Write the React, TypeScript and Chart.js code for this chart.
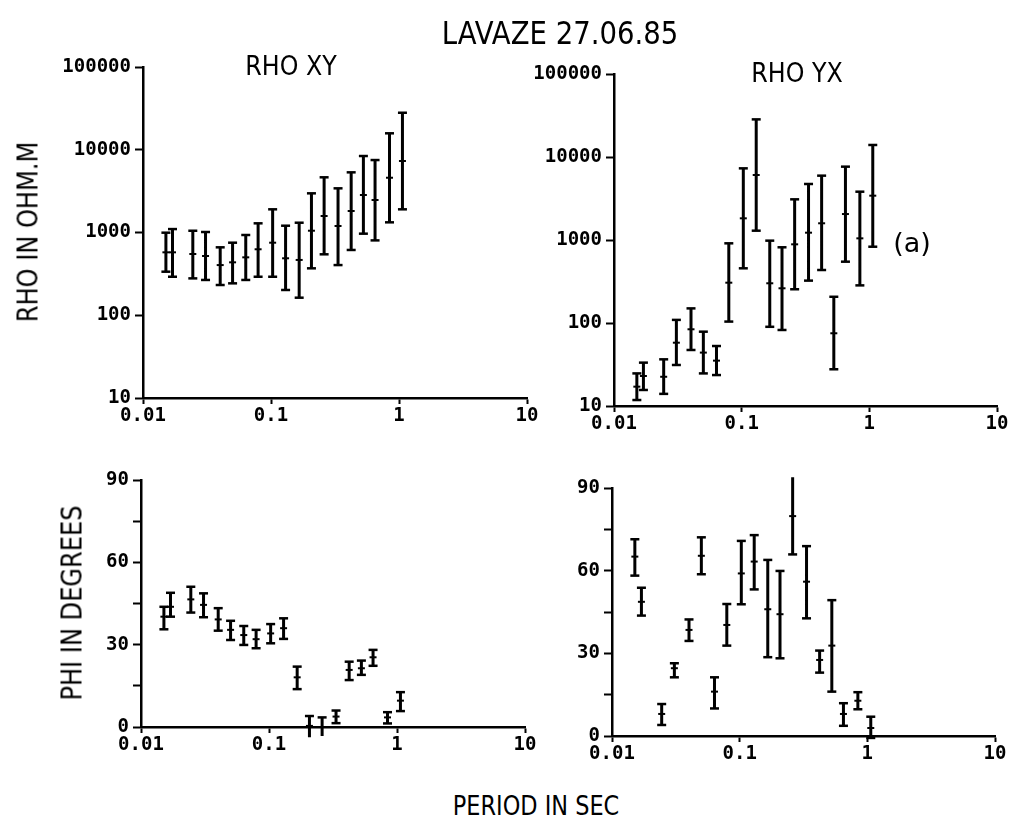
import React, { useEffect, useRef } from "react";
import { Chart, registerables } from "chart.js";

Chart.register(...registerables);

// Periods (s), shared by the four panels
const periods = [0.0151, 0.017, 0.0245, 0.0308, 0.0401, 0.0501, 0.0635, 0.0793, 0.103, 0.13, 0.166, 0.207, 0.26, 0.334, 0.423, 0.527, 0.65, 0.843, 1.064];

// RHO XY (ohm.m)
const rhoXY = [576, 576, 550, 520, 404, 436, 501, 627, 753, 488, 466, 1051, 1582, 1199, 1820, 2837, 2470, 4590, 7310];
const rhoXYHi = [995, 1100, 1050, 1014, 662, 753, 933, 1291, 1906, 1208, 1313, 2974, 4645, 3418, 5334, 8400, 7510, 15800, 28000];
const rhoXYLo = [336, 292, 279, 267, 232, 243, 267, 292, 292, 202, 163, 369, 545, 404, 615, 968, 803, 1327, 1906];

// RHO YX (ohm.m)
const rhoYX = [17.1, 23.0, 22.5, 57.9, 84, 44, 35.2, 306, 1825, 6070, 301, 262, 887, 1225, 1590, 75.2, 2055, 1047, 3420];
const rhoYXHi = [24.7, 33.3, 36.5, 109, 150, 78.6, 52.8, 912, 7300, 28400, 982, 817, 3090, 4730, 5960, 207, 7650, 3820, 13960];
const rhoYXLo = [11.8, 15.6, 14.0, 31.2, 47.3, 24.7, 23.6, 104, 456, 1295, 90, 82.4, 255, 324, 435, 27.7, 548, 284, 830];

// PHI XY (degrees)
const phiXY = [40.2, 43.8, 46.5, 44.5, 39.2, 35.4, 33.5, 32.0, 34.1, 36.0, 18.1, 0.4, 0.0, 3.8, 20.8, 21.4, 25.4, 3.5, 9.6];
const phiXYHi = [43.8, 48.9, 51.1, 48.7, 43.3, 38.7, 36.8, 35.4, 37.5, 39.6, 22.0, 4.0, 3.5, 6.0, 23.8, 24.2, 28.1, 5.4, 12.7];
const phiXYLo = [35.6, 40.2, 41.7, 40.0, 35.1, 31.7, 29.9, 28.7, 30.5, 32.1, 13.8, -3.7, -3.3, 1.4, 17.1, 19.0, 22.3, 1.3, 5.8];

// PHI YX (degrees)
const phiYX = [65.1, 48.7, 8.0, 24.6, 38.5, 65.4, 16.1, 40.3, 59.0, 63.3, 46.0, 44.2, 79.8, 56.0, 27.6, 32.8, 8.0, 12.8, 2.9];
const phiYXHi = [71.4, 53.8, 11.6, 26.4, 42.3, 72.1, 21.3, 47.9, 70.8, 72.9, 63.9, 59.9, 93.9, 68.9, 31.0, 49.3, 11.9, 15.9, 7.0];
const phiYXLo = [58.2, 43.7, 4.0, 21.3, 34.5, 58.7, 10.0, 32.8, 47.8, 53.2, 28.6, 28.2, 65.9, 42.7, 23.0, 16.1, 3.7, 9.7, -0.7];

// Tick values and labels
const xTicks = [0.01, 0.1, 1, 10];
const xTickLabels = ["0.01", "0.1", "1", "10"];
const rhoTicks = [10, 100, 1000, 10000, 100000];
const rhoTickLabels = ["10", "100", "1000", "10000", "100000"];
const phiTicks = [0, 15, 30, 45, 60, 75, 90];
const phiTickLabels = ["0", "", "30", "", "60", "", "90"];

const PAD_L = 100;
const PAD_T = 20;
const PAD_R = 20;
const PAD_B = 40;

type Area = { l: number; r: number; t: number; b: number };
type PanelDef = {
  area: Area;
  kind: "rho" | "phi";
  center: number[];
  lo: number[];
  hi: number[];
};

const panels: PanelDef[] = [
  { area: { l: 143, r: 527, t: 67, b: 398 }, kind: "rho", center: rhoXY, lo: rhoXYLo, hi: rhoXYHi },
  { area: { l: 614, r: 997, t: 74, b: 406 }, kind: "rho", center: rhoYX, lo: rhoYXLo, hi: rhoYXHi },
  { area: { l: 141, r: 525, t: 480, b: 727 }, kind: "phi", center: phiXY, lo: phiXYLo, hi: phiXYHi },
  { area: { l: 612, r: 995, t: 488, b: 736 }, kind: "phi", center: phiYX, lo: phiYXLo, hi: phiYXHi },
];

const tickFont = { family: "'DejaVu Sans Mono', monospace", size: 19, weight: "bold" as const };

function buildConfig(p: PanelDef): any {
  const barData: { x: number; y: number | null }[] = [];
  periods.forEach((x, i) => {
    barData.push({ x, y: p.lo[i] }, { x, y: p.hi[i] }, { x, y: null });
  });
  const centerData = periods.map((x, i) => ({ x, y: p.center[i] }));
  const isRho = p.kind === "rho";
  const yTicks = isRho ? rhoTicks : phiTicks;
  const yLabels = isRho ? rhoTickLabels : phiTickLabels;

  return {
    type: "scatter",
    data: {
      datasets: [
        {
          data: barData,
          showLine: true,
          spanGaps: false,
          borderColor: "#000",
          borderWidth: 3,
          pointStyle: "line",
          pointRadius: 4.5,
          pointBorderWidth: 2.5,
          pointBorderColor: "#000",
          pointBackgroundColor: "#000",
          clip: false,
        },
        {
          data: centerData,
          showLine: false,
          pointStyle: "line",
          pointRadius: 3.5,
          pointBorderWidth: 2,
          pointBorderColor: "#000",
          pointBackgroundColor: "#000",
          clip: false,
        },
      ],
    },
    options: {
      responsive: false,
      animation: false,
      devicePixelRatio: 1,
      events: [],
      layout: { padding: { left: 0, top: PAD_T, right: PAD_R, bottom: 0 } },
      plugins: { legend: { display: false }, tooltip: { enabled: false }, title: { display: false } },
      scales: {
        x: {
          type: "logarithmic",
          position: "bottom",
          min: 0.01,
          max: 10,
          afterBuildTicks: (scale: any) => {
            scale.ticks = xTicks.map((v) => ({ value: v }));
          },
          afterFit: (scale: any) => {
            scale.height = PAD_B;
          },
          ticks: {
            autoSkip: false,
            maxRotation: 0,
            minRotation: 0,
            padding: 1,
            color: "#000",
            font: tickFont,
            callback: (_v: any, i: number) => xTickLabels[i],
          },
          grid: {
            display: true,
            drawOnChartArea: false,
            drawTicks: true,
            tickLength: 6,
            tickWidth: 2,
            tickColor: "#000",
            color: "#000",
          },
          border: { display: true, color: "#000", width: 2.5 },
        },
        y: {
          type: isRho ? "logarithmic" : "linear",
          position: "left",
          min: isRho ? 10 : 0,
          max: isRho ? 100000 : 90,
          afterBuildTicks: (scale: any) => {
            scale.ticks = yTicks.map((v) => ({ value: v }));
          },
          afterFit: (scale: any) => {
            scale.width = PAD_L;
          },
          ticks: {
            autoSkip: false,
            padding: 4,
            color: "#000",
            font: tickFont,
            callback: (_v: any, i: number) => yLabels[i],
          },
          grid: {
            display: true,
            drawOnChartArea: false,
            drawTicks: true,
            tickLength: 8,
            tickWidth: 2,
            tickColor: "#000",
            color: "#000",
          },
          border: { display: true, color: "#000", width: 2.5 },
        },
      },
    },
  };
}

function Panel({ def }: { def: PanelDef }) {
  const ref = useRef<HTMLCanvasElement>(null);
  const { l, r, t, b } = def.area;
  const w = r - l + PAD_L + PAD_R;
  const h = b - t + PAD_T + PAD_B;
  useEffect(() => {
    if (!ref.current) return;
    const chart = new Chart(ref.current, buildConfig(def));
    return () => chart.destroy();
  }, []);
  return (
    <canvas
      ref={ref}
      width={w}
      height={h}
      style={{ position: "absolute", left: l - PAD_L, top: t - PAD_T, width: w, height: h }}
    />
  );
}

const textFont = "'DejaVu Sans', sans-serif";

function Label({
  text,
  x,
  y,
  size,
  sx = 0.83,
  vertical = false,
}: {
  text: string;
  x: number;
  y: number;
  size: number;
  sx?: number;
  vertical?: boolean;
}) {
  return (
    <div
      style={{
        position: "absolute",
        left: x,
        top: y,
        fontFamily: textFont,
        fontSize: size,
        lineHeight: 1,
        whiteSpace: "nowrap",
        color: "#000",
        transform: `translate(-50%, -50%)${vertical ? " rotate(-90deg)" : ""} scale(${sx}, 1)`,
      }}
    >
      {text}
    </div>
  );
}

export default function App() {
  return (
    <div
      style={{
        position: "absolute",
        left: 0,
        top: 0,
        width: 1014,
        height: 826,
        overflow: "hidden",
        background: "#fff",
      }}
    >
      {panels.map((p, i) => (
        <Panel key={i} def={p} />
      ))}
      <Label text="LAVAZE 27.06.85" x={560} y={33} size={32} sx={0.86} />
      <Label text="RHO XY" x={291} y={65} size={27} sx={0.88} />
      <Label text="RHO YX" x={797} y={72} size={27} sx={0.88} />
      <Label text="(a)" x={912} y={242} size={27} sx={1} />
      <Label text="RHO IN OHM.M" x={28} y={232} size={29} vertical />
      <Label text="PHI IN DEGREES" x={72} y={603} size={29} vertical />
      <Label text="PERIOD IN SEC" x={536} y={805} size={27} />
    </div>
  );
}
